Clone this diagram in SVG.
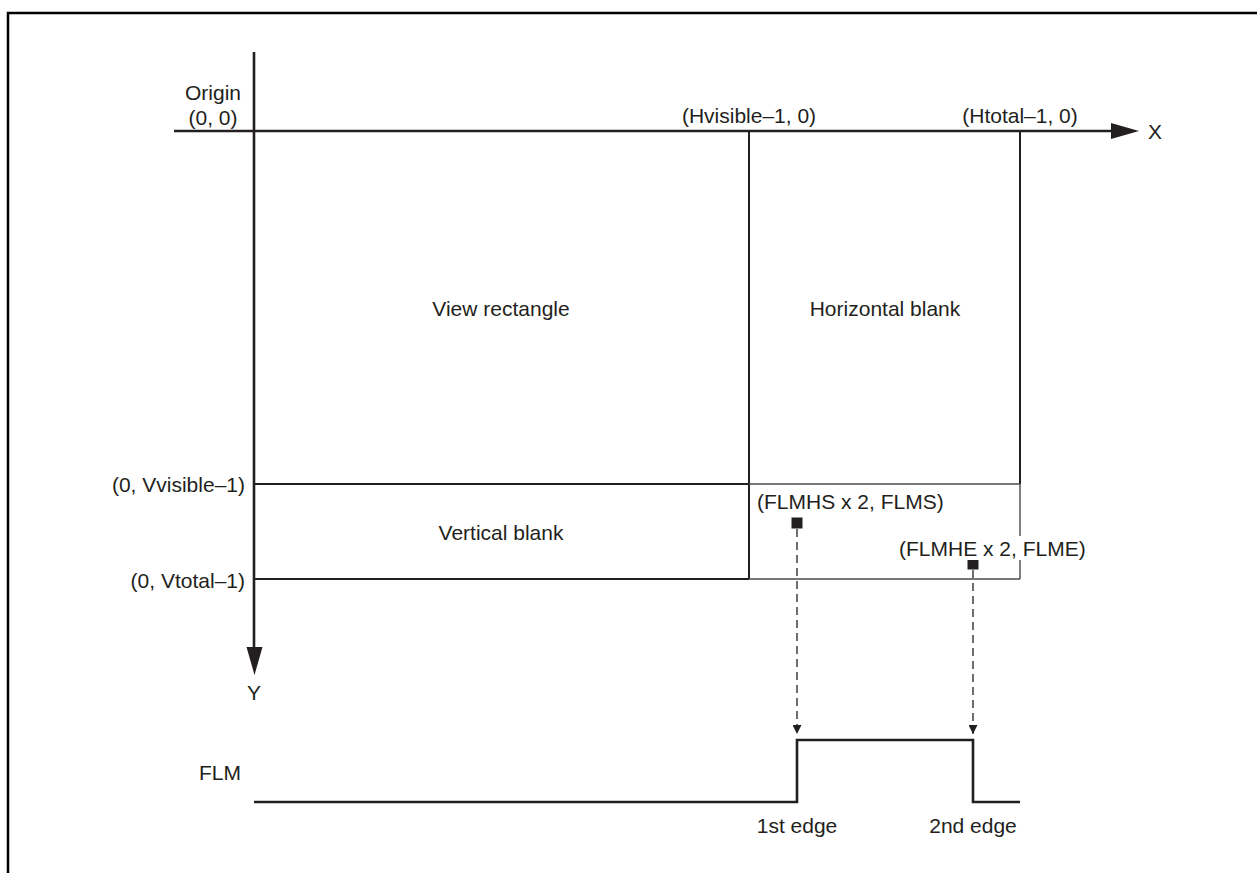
<svg xmlns="http://www.w3.org/2000/svg" width="1257" height="873" viewBox="0 0 1257 873">
<style>
text { font-family: "Liberation Sans", Arial, sans-serif; font-size: 21px; fill: #231f20; }
.axis { stroke: #231f20; stroke-width: 2.6; fill: none; }
.box { stroke: #231f20; stroke-width: 2; fill: none; }
.thin { stroke: #4a4a4a; stroke-width: 1.4; fill: none; }
.dash { stroke: #231f20; stroke-width: 1.3; stroke-dasharray: 8 5; fill: none; }
.wave { stroke: #231f20; stroke-width: 2.6; fill: none; }
</style>
<defs>
<marker id="ah" viewBox="0 0 10 10" refX="10" refY="5" markerWidth="12" markerHeight="9" markerUnits="userSpaceOnUse" orient="auto">
<path d="M0,0 L10,5 L0,10 z" fill="#231f20"/>
</marker>
</defs>
<rect width="1257" height="873" fill="#ffffff"/>
<g id="frame">
<path d="M8,873 V13 H1257" stroke="#000" stroke-width="2.5" fill="none"/>
</g>
<g id="axes">
<line class="axis" x1="174" y1="131" x2="1112" y2="131"/>
<path d="M1111,123 L1139,131 L1111,139 z" fill="#231f20"/>
<line class="axis" x1="254" y1="52" x2="254" y2="648"/>
<path d="M246.5,647 L254.5,675 L262.5,647 z" fill="#231f20"/>
<text x="1148" y="139">X</text>
<text x="254" y="700" text-anchor="middle">Y</text>
<text x="213" y="100" text-anchor="middle">Origin</text>
<text x="213" y="125" text-anchor="middle">(0, 0)</text>
<text x="749" y="123" text-anchor="middle">(Hvisible–1, 0)</text>
<text x="1020" y="123" text-anchor="middle">(Htotal–1, 0)</text>
<text x="245" y="492" text-anchor="end">(0, Vvisible–1)</text>
<text x="245" y="588" text-anchor="end">(0, Vtotal–1)</text>
</g>
<g id="view-rectangle">
<line class="box" x1="749" y1="131" x2="749" y2="579"/>
<line class="box" x1="254" y1="484" x2="749" y2="484"/>
<text x="501" y="316" text-anchor="middle">View rectangle</text>
</g>
<g id="horizontal-blank">
<line class="box" x1="1020" y1="131" x2="1020" y2="484"/>
<text x="885" y="316" text-anchor="middle">Horizontal blank</text>
</g>
<g id="vertical-blank">
<line class="box" x1="254" y1="579" x2="749" y2="579"/>
<text x="501" y="540" text-anchor="middle">Vertical blank</text>
</g>
<g id="flm-region">
<line class="thin" x1="749" y1="484" x2="1020" y2="484"/>
<line class="thin" x1="1020" y1="484" x2="1020" y2="579"/>
<line class="thin" x1="749" y1="579" x2="1020" y2="579"/>
<rect x="791.5" y="517.5" width="11" height="11" fill="#231f20"/>
<rect x="967.5" y="558.5" width="11" height="11" fill="#231f20"/>
<text x="757" y="509">(FLMHS x 2, FLMS)</text>
<rect x="897" y="536" width="194" height="24" fill="#ffffff"/>
<text x="899" y="556">(FLMHE x 2, FLME)</text>
</g>
<g id="connectors">
<line class="dash" x1="797" y1="529" x2="797" y2="734" marker-end="url(#ah)"/>
<line class="dash" x1="973" y1="570" x2="973" y2="734" marker-end="url(#ah)"/>
</g>
<g id="flm-signal">
<path class="wave" d="M254,802 H797 V740 H973 V802 H1020"/>
<text x="199" y="780">FLM</text>
<text x="797" y="833" text-anchor="middle">1st edge</text>
<text x="973" y="833" text-anchor="middle">2nd edge</text>
</g>
</svg>
